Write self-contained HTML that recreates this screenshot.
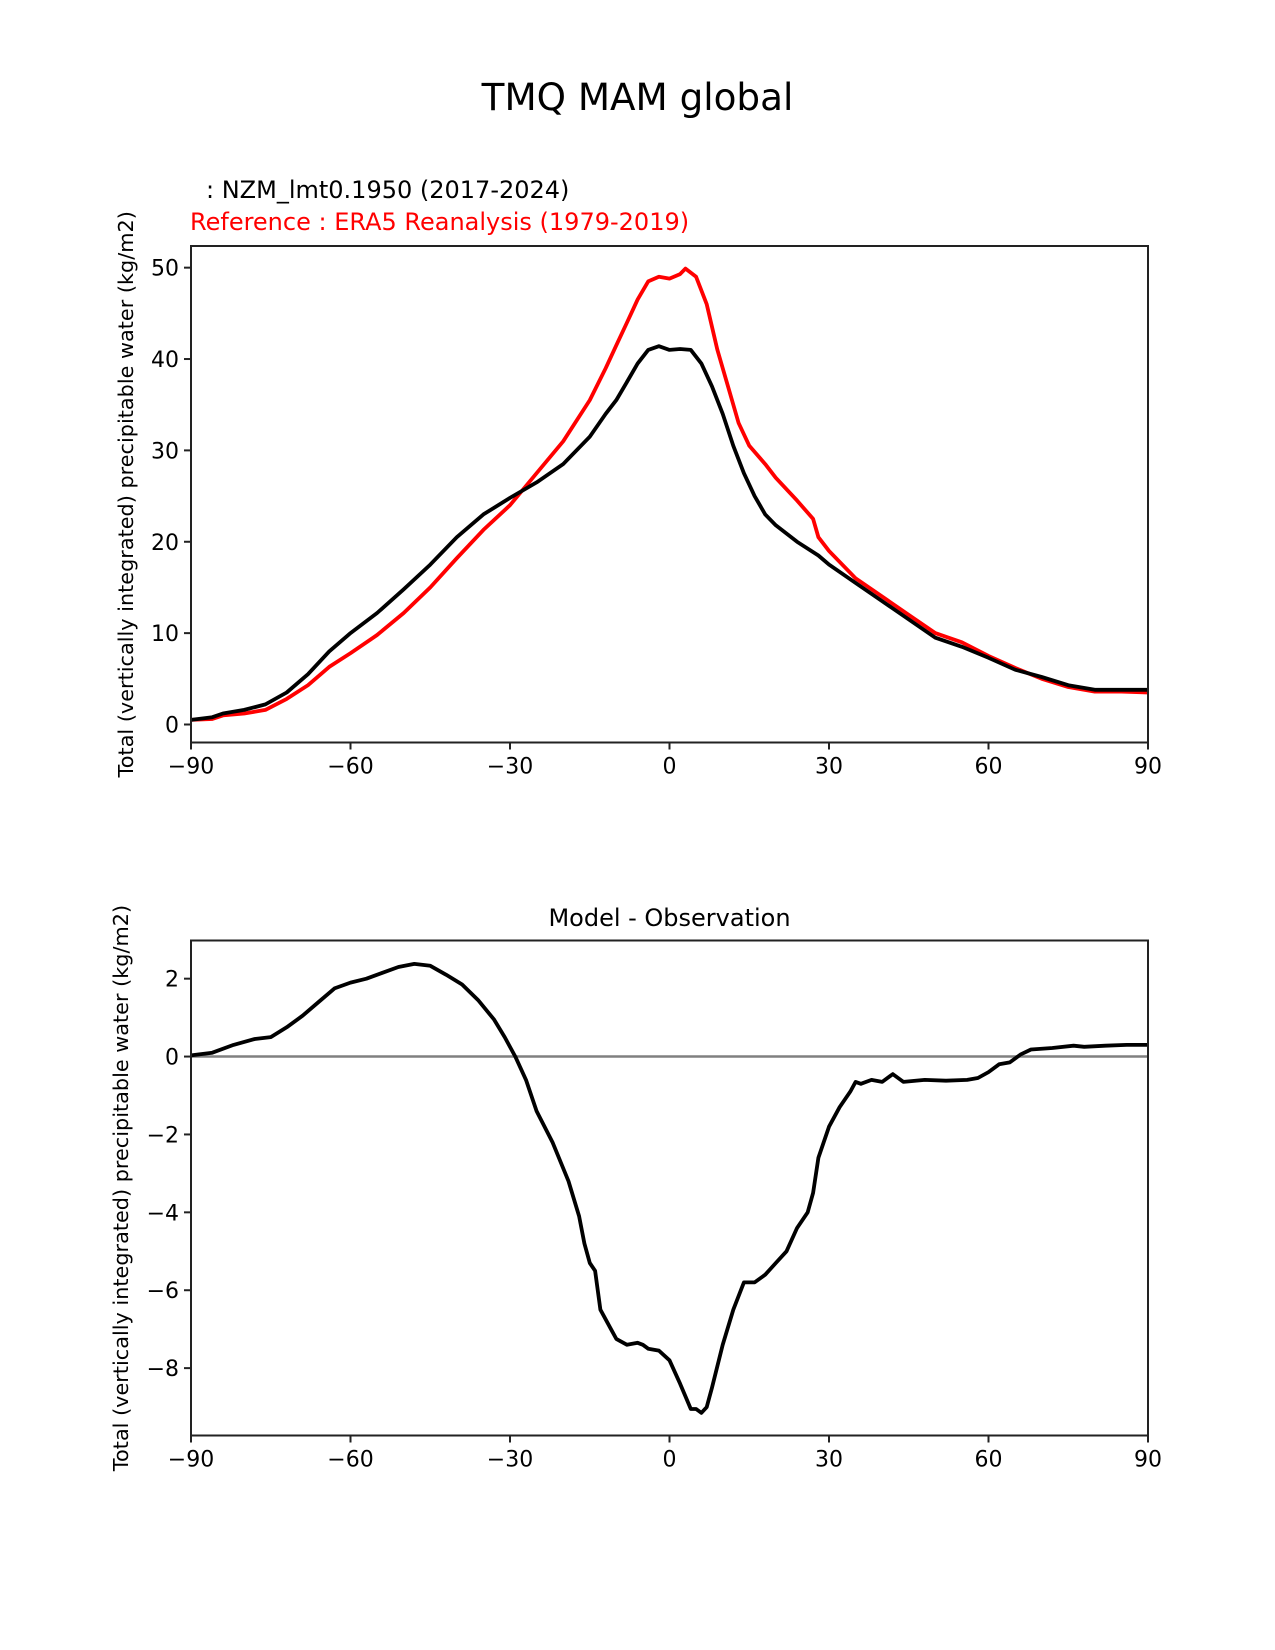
<!DOCTYPE html>
<html><head><meta charset="utf-8"><style>
body{margin:0;background:#fff}
svg{display:block;font-family:"DejaVu Sans","Liberation Sans",sans-serif}
</style></head><body>
<svg id="fig" width="1275" height="1650" viewBox="0 0 1275 1650" xmlns="http://www.w3.org/2000/svg">
<rect width="1275" height="1650" fill="#fff"/>
<text x="637.5" y="110" font-size="37.3" text-anchor="middle">TMQ MAM global</text>
<text x="206" y="198" font-size="24">: NZM_lmt0.1950 (2017-2024)</text>
<text x="190" y="230" font-size="24" fill="#ff0000">Reference : ERA5 Reanalysis (1979-2019)</text>
<text x="669.5" y="926" font-size="24" text-anchor="middle">Model - Observation</text>
<g id="top"></g>
<g id="bot"></g>
</svg>
<script>
const lats = [-90,-86,-84,-80,-76,-72,-68,-64,-60,-55,-50,-45,-40,-35,-30,-25,-20,-15,-12,-10,-8,-6,-4,-2,0,2,4,6,8,10,12,14,16,18,20,24,28,30,35,40,45,50,55,60,65,70,75,80,85,90];
const modelVals = [0.5,0.8,1.2,1.6,2.2,3.5,5.5,8.0,10.0,12.2,14.8,17.5,20.5,23.0,24.8,26.5,28.5,31.5,34,35.5,37.5,39.5,41,41.4,41.0,41.1,41.0,39.5,37,34,30.5,27.5,25,23,21.8,20,18.5,17.5,15.5,13.5,11.5,9.5,8.5,7.3,6.0,5.2,4.3,3.8,3.8,3.8];
const obsLats = [-90,-86,-84,-80,-76,-72,-68,-64,-60,-55,-50,-45,-40,-35,-30,-25,-20,-15,-12,-10,-8,-6,-4,-2,0,2,3,5,7,9,11,13,15,18,20,24,27,28,30,35,40,45,50,55,60,65,70,75,80,85,90];
const obsVals = [0.5,0.6,1.0,1.2,1.6,2.8,4.3,6.3,7.8,9.8,12.2,15,18.2,21.3,24.0,27.5,31,35.5,39,41.5,44,46.5,48.5,49,48.8,49.3,49.9,49,46,41,37,33,30.5,28.5,27,24.5,22.5,20.5,19,16,14,12,10,9,7.5,6.2,5.0,4.1,3.6,3.6,3.5];
const diffLats = [-90,-86,-82,-78,-75,-72,-69,-66,-63,-60,-57,-54,-51,-48,-45,-42,-39,-36,-33,-31,-29,-27,-25,-22,-19,-17,-16,-15,-14,-13,-11,-10,-8,-6,-5,-4,-2,0,2,4,5,6,7,8,10,12,14,16,18,20,22,24,26,27,28,30,32,34,35,36,38,40,42,44,48,52,56,58,60,62,64,66,68,72,76,78,82,86,90];
const diffVals = [0.03,0.1,0.3,0.45,0.5,0.75,1.05,1.4,1.75,1.9,2.0,2.15,2.3,2.38,2.33,2.1,1.85,1.45,0.95,0.5,0.0,-0.6,-1.4,-2.2,-3.2,-4.1,-4.8,-5.3,-5.5,-6.5,-7.0,-7.25,-7.4,-7.35,-7.4,-7.5,-7.55,-7.8,-8.4,-9.05,-9.05,-9.15,-9.0,-8.5,-7.4,-6.5,-5.8,-5.8,-5.6,-5.3,-5.0,-4.4,-4.0,-3.5,-2.6,-1.8,-1.3,-0.9,-0.65,-0.7,-0.6,-0.65,-0.45,-0.65,-0.6,-0.62,-0.6,-0.55,-0.4,-0.2,-0.15,0.05,0.18,0.22,0.28,0.25,0.28,0.3,0.3];
const xTicks = [-90,-60,-30,0,30,60,90];
const topYTicks = [0,10,20,30,40,50];
const botYTicks = [-8,-6,-4,-2,0,2];

const NS='http://www.w3.org/2000/svg';
function mk(tag, attrs, parent){const e=document.createElementNS(NS,tag);for(const k in attrs)e.setAttribute(k,attrs[k]);parent.appendChild(e);return e;}
const L=191,R=1148;
function xs(v){return L+(v+90)/180*(R-L);}
function drawAxes(g, top, bot, ymin, ymax, yTicks, ylabX, name){
  const ys=v=>bot-(v-ymin)/(ymax-ymin)*(bot-top);
  xTicks.forEach(t=>{
    const tk=mk('line',{x1:xs(t),x2:xs(t),y1:bot,y2:bot+7,stroke:'#222','stroke-width':2},g);
    
    
    const tx=mk('text',{x:xs(t),y:bot+31,'font-size':22,'text-anchor':'middle'},g);
    tx.textContent=(t<0?'\u2212'+(-t):t);
    
    
  });
  yTicks.forEach(t=>{
    const tk=mk('line',{x1:L-7,x2:L,y1:ys(t),y2:ys(t),stroke:'#222','stroke-width':2},g);
    
    
    const tx=mk('text',{x:L-12,y:ys(t)+8,'font-size':22,'text-anchor':'end'},g);
    tx.textContent=(t<0?'\u2212'+(-t):t);
    
    
  });
  const yl=mk('text',{x:0,y:0,'font-size':20.8,'text-anchor':'middle',transform:`translate(${ylabX},${(top+bot)/2}) rotate(-90)`},g);
  yl.textContent='Total (vertically integrated) precipitable water (kg/m2)';
  
  
  return ys;
}
function line(g, xsArr, ysArr, ys, color, name){
  const d=xsArr.map((x,i)=>(i?'L':'M')+xs(x).toFixed(1)+','+ys(ysArr[i]).toFixed(1)).join(' ');
  const p=mk('path',{d:d,fill:'none',stroke:color,'stroke-width':3.8,'stroke-linejoin':'round'},g);
  
  
}
function frame(g,top,bot){
  const r=mk('rect',{x:L,y:top,width:R-L,height:bot-top,fill:'none',stroke:'#222','stroke-width':2},g);
  
  
}
const gt=document.getElementById('top');
const ysT=drawAxes(gt,246,742.5,-1.97,52.37,topYTicks,133,'top');
line(gt,obsLats,obsVals,ysT,'#ff0000','obs-line');
line(gt,lats,modelVals,ysT,'#000000','model-line');
frame(gt,246,742.5);
const gb=document.getElementById('bot');
const ysB=drawAxes(gb,940.5,1435.5,-9.73,2.98,botYTicks,128,'bottom');
const zl=mk('line',{x1:L,x2:R,y1:ysB(0),y2:ysB(0),stroke:'#808080','stroke-width':2.5},gb);


line(gb,diffLats,diffVals,ysB,'#000000','diff-line');
frame(gb,940.5,1435.5);
</script>
</body></html>
